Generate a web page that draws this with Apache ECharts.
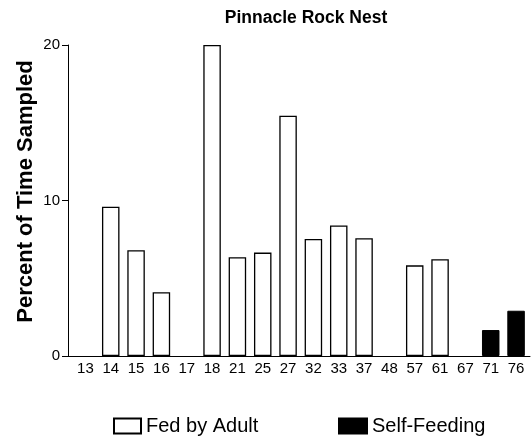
<!DOCTYPE html>
<html><head><meta charset="utf-8">
<script src="https://cdn.jsdelivr.net/npm/echarts@6/dist/echarts.min.js"></script>
<style>html,body{margin:0;padding:0;background:#fff}#c{width:531px;height:439px}</style>
</head><body><div id="c"></div>
<script>
const categories = ['13','14','15','16','17','18','21','25','27','32','33','37','48','57','61','67','71','76'];
const fedByAdult = [null,9.6,6.8,4.1,null,20.0,6.35,6.65,15.45,7.52,8.4,7.57,null,5.83,6.22,null,null,null];
const selfFeeding = [null,null,null,null,null,null,null,null,null,null,null,null,null,null,null,null,1.67,2.91];
const yTicks = [0,10,20];

const idx = categories.map((c,i)=>i);
const pairs = arr => arr.map((v,i)=>[i,v]).filter(p=>p[1]!==null);

const chart = echarts.init(document.getElementById('c'), null, {renderer:'canvas'});
const F = 'Liberation Sans, Arial, sans-serif';
chart.setOption({
  animation:false,
  backgroundColor:'#fff',
  title:{text:'Pinnacle Rock Nest',left:301,textAlign:'center',top:4,
    textStyle:{fontFamily:F,fontSize:17.5,fontWeight:'bold',color:'#000'}},
  legend:[
    {data:['Fed by Adult'],left:108,top:411,icon:'rect',itemWidth:27,itemHeight:15,
     textStyle:{fontFamily:F,fontSize:20,color:'#000'}},
    {data:['Self-Feeding'],left:333,top:411,icon:'rect',itemWidth:28,itemHeight:15,
     textStyle:{fontFamily:F,fontSize:20,color:'#000'}}
  ],
  grid:{left:68,right:1,top:45,bottom:83,containLabel:false},
  xAxis:{type:'value',min:-0.687,max:17.55,
    axisLine:{show:true,onZero:false,lineStyle:{color:'#000',width:1}},
    axisTick:{show:false},
    splitLine:{show:false},
    axisLabel:{color:'#000',fontFamily:F,fontSize:15,margin:5,
      customValues:idx, formatter:v=>categories[Math.round(v)]}},
  yAxis:{type:'value',min:0,max:20,interval:10,
    name:'Percent of Time Sampled',nameLocation:'middle',nameGap:31,nameMoveOverlap:false,
    nameTextStyle:{fontFamily:F,fontSize:22,fontWeight:700,fontStyle:'normal',color:'#000',padding:[0,0,0,18]},
    axisLine:{show:true,onZero:false,lineStyle:{color:'#000',width:1}},
    axisTick:{show:true,length:6,lineStyle:{color:'#000'}},
    splitLine:{show:false},
    axisLabel:{color:'#000',fontFamily:F,fontSize:15,margin:8,
      formatter:v=>yTicks.includes(v)?String(v):''}},
  series:[
    {name:'Fed by Adult',type:'bar',data:pairs(fedByAdult),barWidth:17.5,barGap:'-100%',
     itemStyle:{color:'#fff',borderColor:'#000',borderWidth:1.3}},
    {name:'Self-Feeding',type:'bar',data:pairs(selfFeeding),barWidth:17.5,barGap:'-100%',
     itemStyle:{color:'#000',borderColor:'#000',borderWidth:1}}
  ]
});
</script></body></html>
